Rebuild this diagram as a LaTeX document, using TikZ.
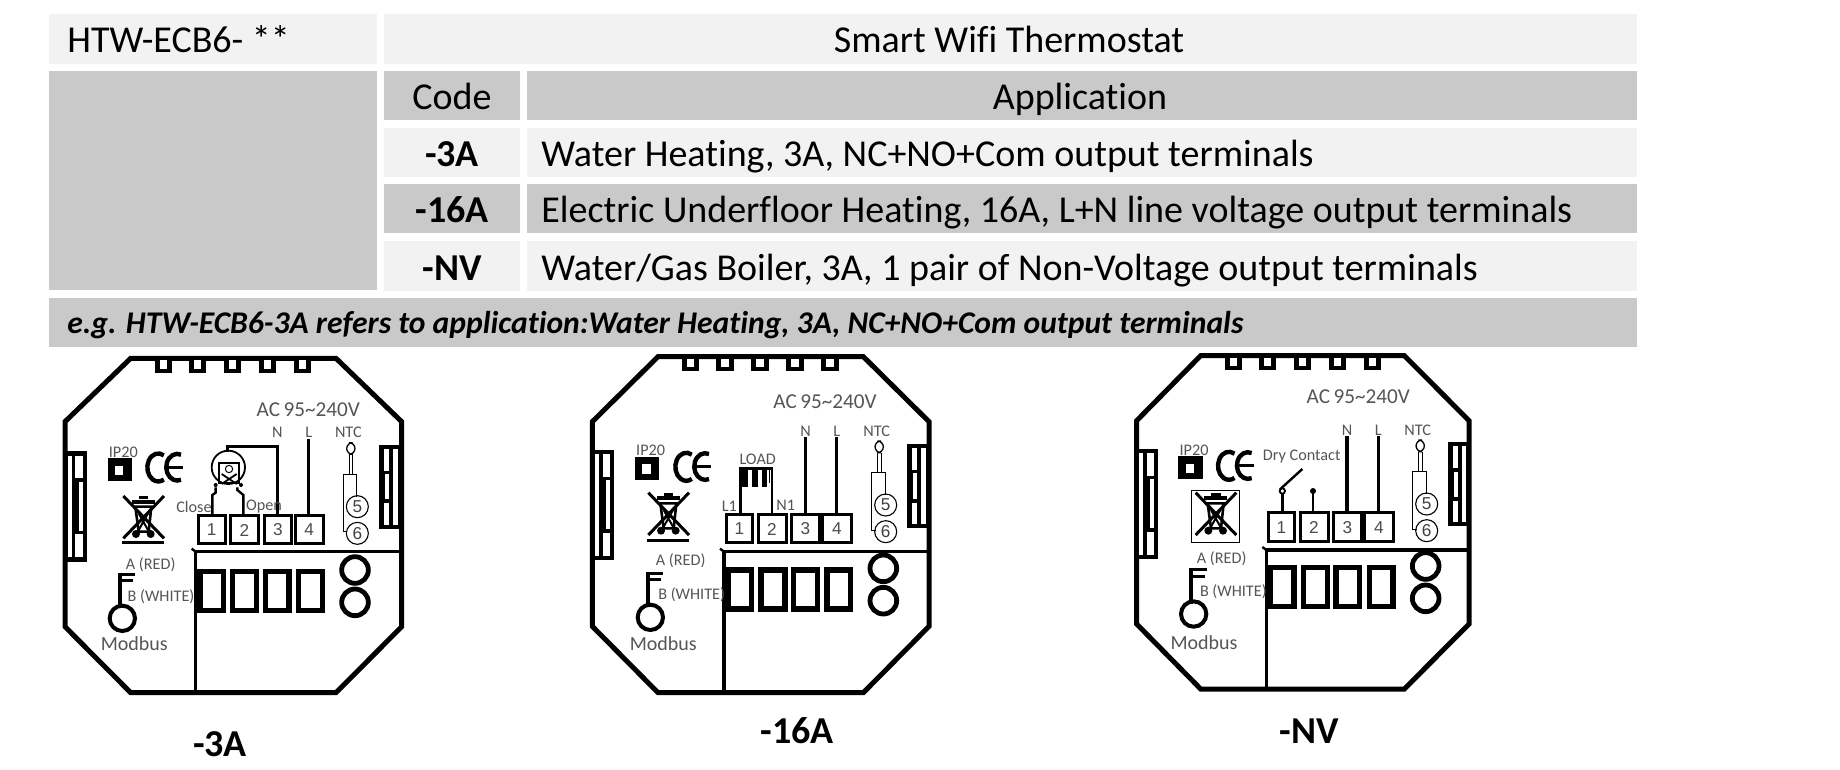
\documentclass[tikz,border=0pt]{standalone}
\usepackage{fontspec}
\setmainfont[Ligatures=NoCommon]{Carlito}
\newfontfamily\digitfont{Liberation Sans}
\definecolor{cellL}{HTML}{F2F2F2}
\definecolor{cellD}{HTML}{C9C9C9}
\definecolor{lbl}{HTML}{555555}
\tikzset{
  lab/.style={inner sep=0pt,text=lbl,font=\fontsize{8.1}{9}\selectfont},
  labM/.style={inner sep=0pt,text=lbl,font=\fontsize{10}{11}\selectfont},
  labAC/.style={inner sep=0pt,text=lbl,font=\fontsize{10.6}{12}\selectfont},
  num/.style={inner sep=0pt,text=black!70,font=\digitfont\fontsize{8.6}{10}\selectfont},
  cir/.style={inner sep=0pt,text=black!75,font=\digitfont\fontsize{8.6}{10}\selectfont},
  txt/.style={inner sep=0pt,anchor=base west,font=\fontsize{19}{22}\selectfont},
  txtc/.style={inner sep=0pt,anchor=base,font=\fontsize{19}{22}\selectfont},
  txtb/.style={inner sep=0pt,anchor=base,font=\bfseries\fontsize{19}{22}\selectfont},
  outl/.style={line width=2.5pt,line join=miter,draw=black},
  wire/.style={line width=1.6pt,draw=black},
  thin1/.style={line width=0.55pt,draw=black},
  devscope/.style={x=0.16667pt,y=-0.16667pt},
}
% all device parts are drawn in the coordinates of the first device, then shifted
\newcommand{\DevHousing}{%
  \draw[outl] (272,25)--(888,25)--(1085,215)--(1085,830)--(888,1028)--(272,1028)--(75,830)--(75,215)--cycle;}
\newcommand{\DevTabs}{%
  \foreach \tx in {370,473,578,683,788}{
    \fill (\tx-26,25) rectangle (\tx+26,68);
    \fill[white] (\tx-11,31) rectangle (\tx+11,56);}}
\newcommand{\DevLatchL}{%
  \fill[black] (80,303) rectangle (140,635);
  \fill[white] (84,317) rectangle (96,622);
  \fill[white] (106,317) rectangle (128,385);
  \fill[white] (116,395) rectangle (128,542);
  \fill[white] (106,552) rectangle (128,622);}
\newcommand{\DevLatchR}{%
  \fill[black] (1018,284) rectangle (1078,536);
  \fill[white] (1060,296) rectangle (1073,524);
  \fill[white] (1032,296) rectangle (1048,362);
  \fill[white] (1036,372) rectangle (1048,448);
  \fill[white] (1032,460) rectangle (1048,524);}
\newcommand{\DevTerm}[1]{%
  \foreach \ta/\tb/\tn in {475/555/1,571/655/2,672/755/3,765/850/4}{
    \draw[line width=1.5pt,fill=white] (\ta,496) rectangle (\tb,581);
    \node[num] (#1-t\tn) at ({(\ta+\tb)/2},540) {\tn};}}
\newcommand{\DevLower}{%
  \foreach \ta/\tb in {472/558,570/658,668/755,768/855}{
    \draw[line width=2.8pt,draw=black] (\ta+8,665) rectangle (\tb-8,782);}
  \foreach \cy in {660,757}{\draw[line width=2.4pt] (945,\cy) circle (40);}}
\newcommand{\DevNTC}[1]{%
  \node[lab] (#1-ntc) at (925,248) {NTC};
  \draw[line width=0.65pt,rounded corners=3] (920,278) rectangle (945,313);
  \draw[line width=0.5pt] (928,313)--(928,372) (938,313)--(938,372);
  \draw[line width=0.5pt] (950,440)--(950,372)--(910,372)--(910,545)--(922,545);
  \draw[line width=0.55pt] (952,470) circle (33) (952,550) circle (33);
  \node[cir] (#1-c5) at (952,470) {5};
  \node[cir] (#1-c6) at (952,550) {6};}
\newcommand{\DevIP}[1]{%
  \node[lab] (#1-ip) at (250,306) {IP20};
  \fill (203,325) rectangle (276,394);
  \fill[white] (225,347) rectangle (250,375);}
\newcommand{\DevCE}{%
  \draw[line width=2.2pt] (371.5,316) arc[start angle=-60,end angle=-300,x radius=33,y radius=42];
  \draw[line width=2.2pt] (423,314) arc[start angle=-70,end angle=-290,x radius=33,y radius=40];
  \draw[line width=1.8pt] (385,352)--(430,352);}
\newcommand{\DevBin}{%
  \draw[line width=1.5pt] (250,438)--(372,565) (372,438)--(250,565);
  \draw[line width=1.3pt] (286,470)--(334,470)--(326,545)--(296,545)--cycle;
  \draw[line width=1.9pt] (276,455)--(344,455);
  \draw[line width=1.2pt] (297,443)--(325,443);
  \fill (288,552) circle (12) (332,552) circle (12);
  \draw[line width=1pt] (296,490)--(324,540) (324,490)--(296,540);}
\newcommand{\DevBinLine}{\draw[line width=1.3pt] (247,578)--(373,578);}
\newcommand{\DevKey}{%
  \draw[line width=2.1pt] (240,668)--(240,775);
  \draw[line width=1.5pt] (234,672)--(286,672) (240,691)--(280,691);
  \draw[line width=2pt] (247,805) circle (38);}
\newcommand{\DevComp}[4]{%
  \draw[line width=1.2pt] (#1-12,#2-9)--(#1,#2);
  \draw[line width=1.7pt] (#1,#4)--(#1,#2)--(#3,#2);}
\begin{document}
\begin{tikzpicture}[x=0.5pt,y=-0.5pt]
\useasboundingbox (0,0) rectangle (1840,770);
\fill[white] (0,0) rectangle (1840,770);
% table
\fill[cellL] (49,14) rectangle (377,64);
\fill[cellL] (384,14) rectangle (1637,64);
\fill[cellD] (49,71) rectangle (377,290);
\fill[cellD] (384,71) rectangle (520,120);
\fill[cellD] (527,71) rectangle (1637,120);
\fill[cellL] (384,128) rectangle (520,177);
\fill[cellL] (527,128) rectangle (1637,177);
\fill[cellD] (384,184) rectangle (520,233);
\fill[cellD] (527,184) rectangle (1637,233);
\fill[cellL] (384,241) rectangle (520,291);
\fill[cellL] (527,241) rectangle (1637,291);
\fill[cellD] (49,298) rectangle (1637,347);
\node[txt] (model) at (67,53) {HTW-ECB6- **};
\node[txtc] (title) at (1009,53) {Smart Wifi Thermostat};
\node[txtc] (code) at (452,110) {Code};
\node[txtc] (appl) at (1080,110) {Application};
\node[txtb] (c1) at (452,167) {-3A};
\node[txt] (a1) at (541,167) {Water Heating, 3A, NC+NO+Com output terminals};
\node[txtb] (c2) at (452,223) {-16A};
\node[txt] (a2) at (541,223) {Electric Underfloor Heating, 16A, L+N line voltage output terminals};
\node[txtb] (c3) at (452,280) {-NV};
\node[txt] (a3) at (541,280) {Water/Gas Boiler, 3A, 1 pair of Non-Voltage output terminals};
\node[txt,font=\bfseries\itshape\fontsize{15.8}{18}\selectfont] (eg) at (67,333) {e.g. HTW-ECB6-3A refers to application:Water Heating, 3A, NC+NO+Com output terminals};
\node[txtb] (cap1) at (220,756) {-3A};
\node[txtb] (cap2) at (797,743) {-16A};
\node[txtb] (cap3) at (1309,743) {-NV};

% device 1
\begin{scope}[shift={(40,350)},devscope]
  \DevHousing \DevTabs \DevLatchL \DevLatchR
  \DevComp{467}{605}{1078}{1028}
  \draw[wire] (712,495)--(712,290)--(563,290)--(563,305);
  \draw[wire] (806,268)--(806,495);
  \draw[thin1,line width=0.9pt] (565,352) circle (50);
  \draw[line width=0.9pt] (537,338) rectangle (597,400);
  \draw[line width=0.5pt] (567,357) circle (11);
  \draw[line width=0.9pt] (545,372)--(590,402) (590,372)--(545,402);
  \fill (527,405) circle (6) (603,405) circle (6);
  \draw[line width=1.2pt] (527,412)--(527,428)--(517,435)--(517,495);
  \draw[line width=1.2pt] (592,412)--(592,420)--(610,435)--(610,495);
  \DevTerm{d1} \DevLower \DevNTC{d1} \DevIP{d1} \DevCE \DevBin \DevBinLine \DevKey
  \node[labAC] (d1-ac) at (805,180) {AC\,95\textasciitilde240V};
  \node[lab] (d1-n) at (712,248) {N};
  \node[lab] (d1-l) at (806,248) {L};
  \node[lab] (d1-close) at (462,470) {Close};
  \node[lab] (d1-open) at (672,470) {Open};
  \node[lab] (d1-a) at (332,645) {A (RED)};
  \node[lab] (d1-b) at (363,740) {B (WHITE)};
  \node[labM] (d1-m) at (283,880) {Modbus};
\end{scope}

% device 2
\begin{scope}[shift={(580,350)},devscope]
  \begin{scope}[shift={(-38,-3)}]\draw[outl] (272,23)--(888,23)--(1085,218)--(1085,832)--(888,1031)--(272,1031)--(75,832)--(75,218)--cycle;\end{scope}
  \begin{scope}[shift={(-38,-5)}]\DevTabs\end{scope}
  \begin{scope}[shift={(-38,-4)}]\DevLatchL\end{scope}
  \begin{scope}[shift={(-36,-2)}]\DevLatchR\end{scope}
  \DevComp{432}{605}{1040}{1028}
  \draw[wire] (677,262)--(677,492);
  \draw[wire] (770,262)--(770,492);
  \fill (478,352) rectangle (578,361);
  \fill (478,352) rectangle (505,412);
  \fill (515,361) rectangle (535,412);
  \fill (545,361) rectangle (560,412);
  \draw[line width=0.7pt] (568,361)--(568,400);
  \draw[line width=1.2pt] (482,412)--(482,492) (576,352)--(576,492);
  \begin{scope}[shift={(-37,-3)}]\DevTerm{d2}\end{scope}
  \begin{scope}[shift={(-35,-5)}]\DevLower\end{scope}
  \begin{scope}[shift={(-35,-5)}]\DevNTC{d2}\end{scope}
  \begin{scope}[shift={(-38,-4)}]\DevIP{d2}\end{scope}
  \begin{scope}[shift={(-36,-2)}]\DevCE\end{scope}
  \begin{scope}[shift={(-45,-10)}]\DevBin\end{scope}
  \begin{scope}[shift={(-45,-7)}]\DevBinLine\end{scope}
  \begin{scope}[shift={(-36,-3)}]\DevKey\end{scope}
  \node[labAC] (d2-ac) at (735,155) {AC\,95\textasciitilde240V};
  \node[lab] (d2-n) at (677,243) {N};
  \node[lab] (d2-l) at (770,243) {L};
  \node[lab] (d2-load) at (533,327) {LOAD};
  \node[lab] (d2-l1) at (448,468) {L1};
  \node[lab] (d2-n1) at (617,465) {N1};
  \node[lab] (d2-a) at (302,632) {A (RED)};
  \node[lab] (d2-b) at (335,733) {B (WHITE)};
  \node[labM] (d2-m) at (250,880) {Modbus};
\end{scope}

% device 3
\begin{scope}[shift={(1120,350)},devscope]
  \draw[outl] (242,17)--(853,17)--(1047,212)--(1047,822)--(853,1017)--(242,1017)--(50,822)--(50,212)--cycle;
  \begin{scope}[shift={(-30,-8)}]\DevTabs\end{scope}
  \begin{scope}[shift={(-26,-7)}]\DevLatchL\end{scope}
  \begin{scope}[shift={(-34,-7)}]\DevLatchR\end{scope}
  \DevComp{439}{600}{1042}{1017}
  \draw[wire] (681,258)--(681,487);
  \draw[wire] (775,258)--(775,487);
  \draw[line width=1.2pt] (480,418)--(547,357);
  \draw[line width=0.9pt] (487,423) circle (8);
  \fill (579,423) circle (9);
  \draw[line width=1.2pt] (487,431)--(487,487) (579,430)--(579,487);
  \begin{scope}[shift={(-31,-8)}]\DevTerm{d3}\end{scope}
  \begin{scope}[shift={(-28,-12)}]\DevLower\end{scope}
  \begin{scope}[shift={(-32,-8)}]\DevNTC{d3}\end{scope}
  \begin{scope}[shift={(-28,-6)}]\DevIP{d3}\end{scope}
  \begin{scope}[shift={(-28,-5)}]\DevCE\end{scope}
  \begin{scope}[shift={(-23,-10)}]\DevBin\end{scope}
  \draw[line width=0.5pt] (215,422) rectangle (358,576);
  \begin{scope}[shift={(-26,-13)}]\DevKey\end{scope}
  \node[labAC] (d3-ac) at (715,140) {AC\,95\textasciitilde240V};
  \node[lab] (d3-n) at (681,241) {N};
  \node[lab] (d3-l) at (775,241) {L};
  \node[lab] (d3-dry) at (545,320) {Dry Contact};
  \node[lab] (d3-a) at (305,625) {A (RED)};
  \node[lab] (d3-b) at (340,725) {B (WHITE)};
  \node[labM] (d3-m) at (252,878) {Modbus};
\end{scope}
\end{tikzpicture}
\end{document}
